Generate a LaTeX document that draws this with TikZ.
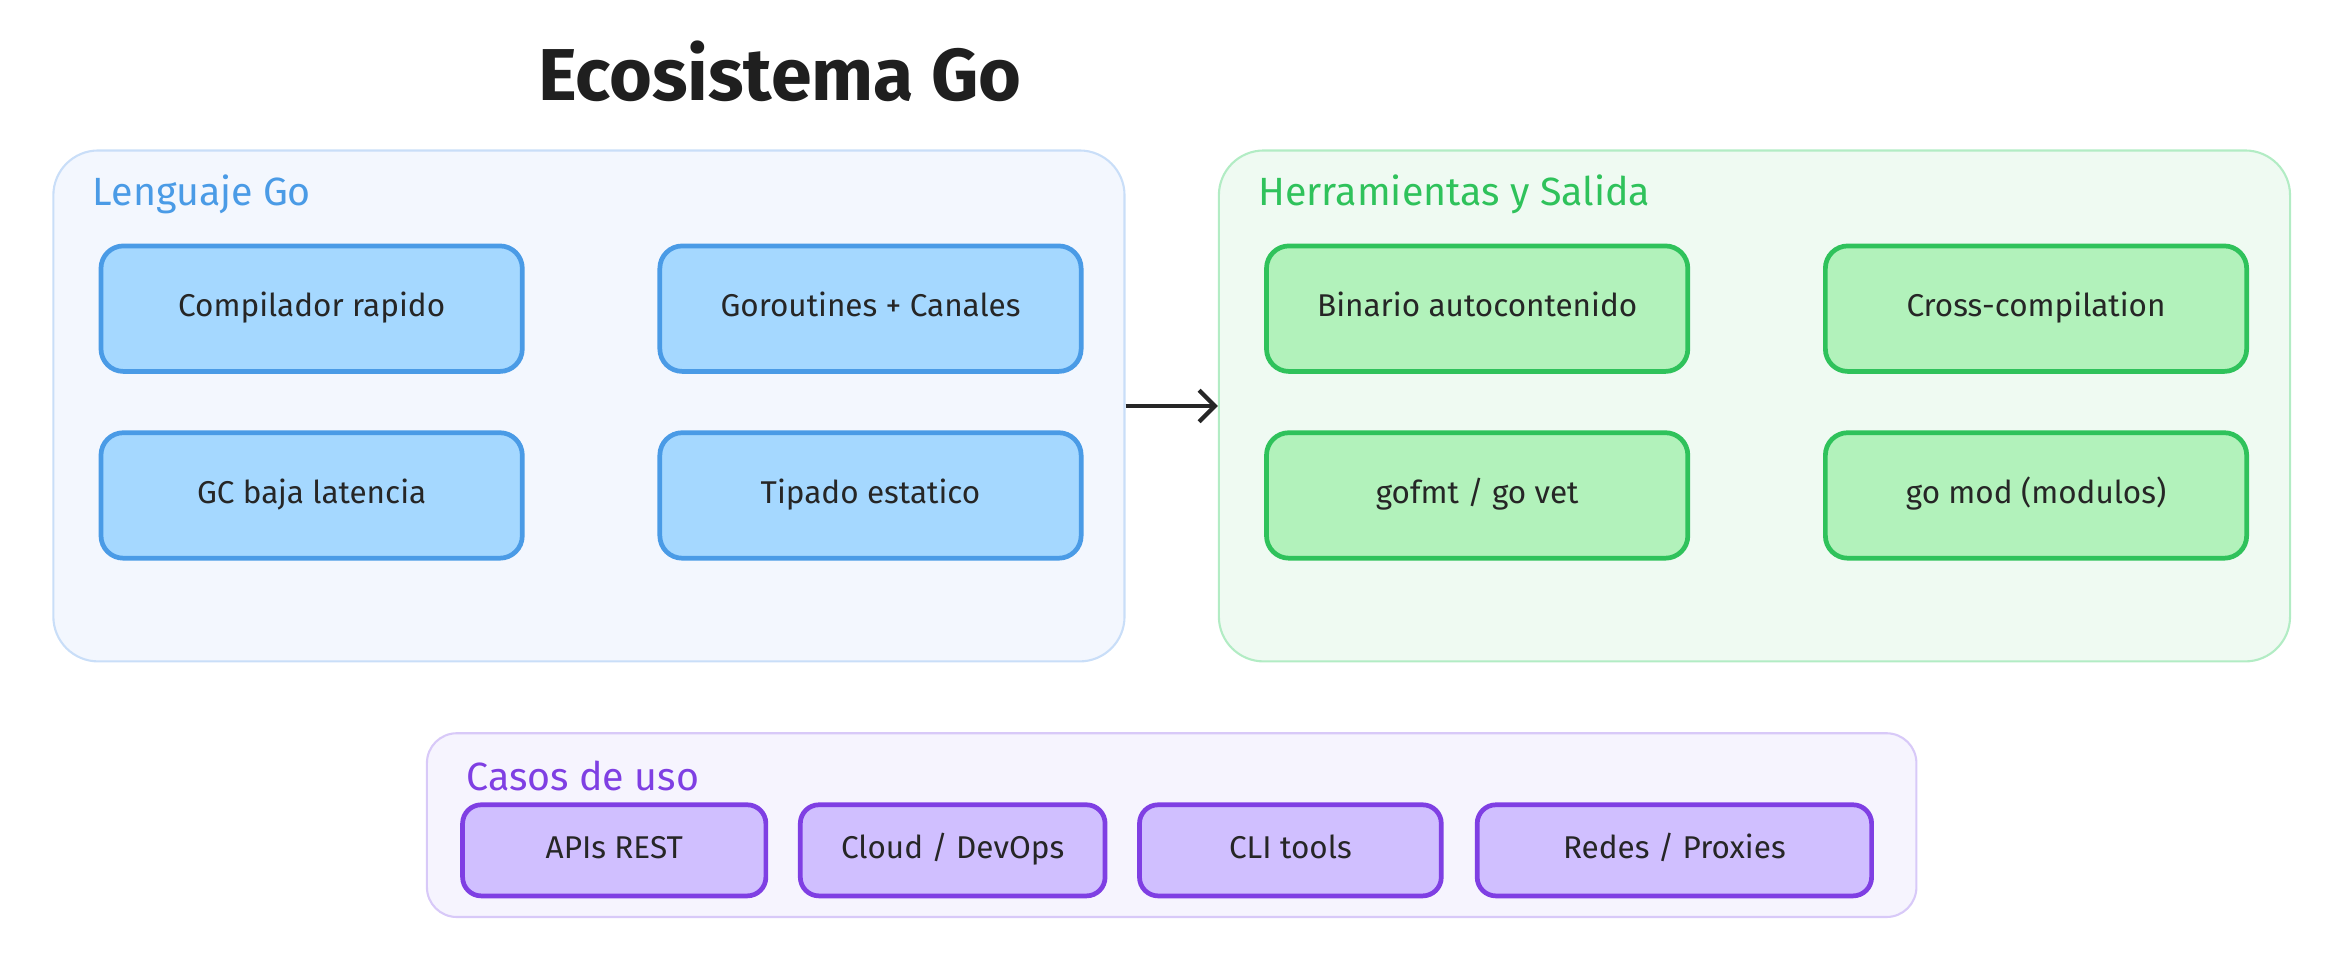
\documentclass[tikz,border=0pt]{standalone}
\usepackage{fontspec}
\setmainfont{Fira Sans}
\usetikzlibrary{positioning,arrows.meta}
\definecolor{blueFill}{HTML}{A5D8FF}
\definecolor{blueLine}{HTML}{4A9BE6}
\definecolor{blueBack}{HTML}{F3F7FE}
\definecolor{blueEdge}{HTML}{C9DEF8}
\definecolor{greenFill}{HTML}{B2F2BB}
\definecolor{greenLine}{HTML}{2FC25B}
\definecolor{greenBack}{HTML}{EFFAF2}
\definecolor{greenEdge}{HTML}{B2ECC4}
\definecolor{violetFill}{HTML}{D0BFFF}
\definecolor{violetLine}{HTML}{7F3FE3}
\definecolor{violetBack}{HTML}{F6F4FE}
\definecolor{violetEdge}{HTML}{D8C9F8}
\tikzset{
 group/.style={draw, rounded corners=0.6cm, line width=0.8pt, anchor=north west, inner sep=0pt},
 item/.style={draw, rounded corners=0.3cm, line width=1.8pt, anchor=north west, inner sep=0pt,
   font=\fontsize{12}{14}\selectfont, text=black!85, text height=1.7ex, text depth=0.5ex},
 caption/.style={anchor=west, font=\fontsize{15}{18}\selectfont},
}
\begin{document}
\begin{tikzpicture}[x=0.02cm, y=-0.02cm]
\useasboundingbox (0,0) rectangle (1568,652.6);
\node[font=\fontsize{28}{32}\selectfont\bfseries, text=black!88] (title) at (522,48) {Ecosistema Go};
% lenguaje
\node[group, fill=blueBack, draw=blueEdge, minimum width=14.34cm, minimum height=6.84cm] (lang) at (35,100) {};
\node[caption, text=blueLine] (langlbl) at (56,130) {Lenguaje Go};
\foreach \x/\y/\t/\n in {66/163/{Compilador rapido}/a, 440/163/{Goroutines + Canales}/b, 66/288/{GC baja latencia}/c, 440/288/{Tipado estatico}/d}
  \node[item, fill=blueFill, draw=blueLine, minimum width=5.64cm, minimum height=1.68cm] (lang\n) at (\x,\y) {\t};
% herramientas
\node[group, fill=greenBack, draw=greenEdge, minimum width=14.34cm, minimum height=6.84cm] (tools) at (815,100) {};
\node[caption, text=greenLine] (toolslbl) at (836,130) {Herramientas y Salida};
\foreach \x/\y/\t/\n in {846/163/{Binario autocontenido}/a, 1220/163/{Cross-compilation}/b, 846/288/{gofmt / go vet}/c, 1220/288/{go mod (modulos)}/d}
  \node[item, fill=greenFill, draw=greenLine, minimum width=5.64cm, minimum height=1.68cm] (tools\n) at (\x,\y) {\t};
\draw[-{Straight Barb[length=6pt,width=12pt]}, line width=1.6pt, black!85] (lang.east) -- (tools.west);
% casos
\node[group, fill=violetBack, draw=violetEdge, minimum width=19.94cm, minimum height=2.46cm, rounded corners=0.4cm] (uses) at (285,490) {};
\node[caption, text=violetLine] (useslbl) at (306,519) {Casos de uso};
\foreach \x/\w/\t/\n in {308/4.06/{APIs REST}/a, 534/4.08/{Cloud / DevOps}/b, 761/4.04/{CLI tools}/c, 987/5.28/{Redes / Proxies}/d}
  \node[item, fill=violetFill, draw=violetLine, minimum width=\w cm, minimum height=1.22cm, rounded corners=0.25cm] (uses\n) at (\x,537) {\t};
\end{tikzpicture}
\end{document}
